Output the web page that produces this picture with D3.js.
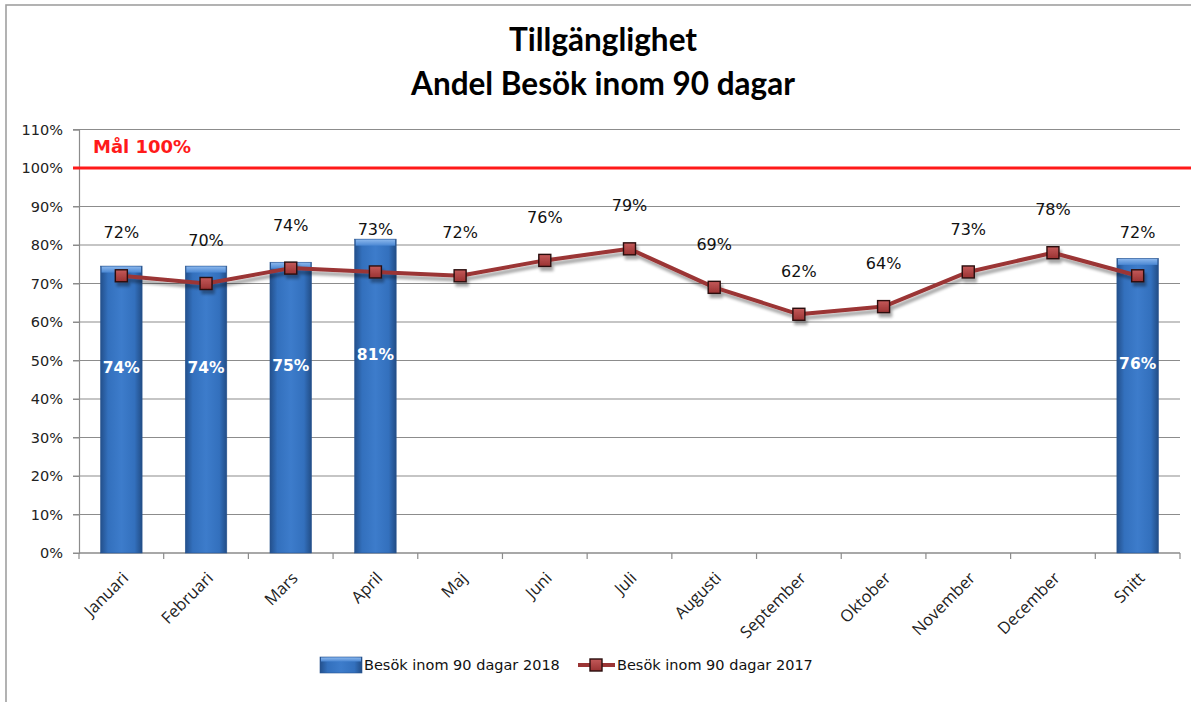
<!DOCTYPE html>
<html><head><meta charset="utf-8">
<script src="https://cdn.jsdelivr.net/npm/d3@7"></script>
<style>
html,body{margin:0;padding:0;background:#fff;}
svg{display:block;}
</style></head>
<body>
<svg id="chart" width="1191" height="702"></svg>
<script>
// ---- data ----
const categories = ["Januari","Februari","Mars","April","Maj","Juni","Juli","Augusti","September","Oktober","November","December","Snitt"];
const values2018 = [74, 74, 75, 81, null, null, null, null, null, null, null, null, 76];
const values2017 = [72, 70, 74, 73, 72, 76, 79, 69, 62, 64, 73, 78, 72];
const yTicks = [0,10,20,30,40,50,60,70,80,90,100,110];
const goalValue = 100;
const goalLabel = "Mål 100%";
const titleLines = ["Tillgänglighet", "Andel Besök inom 90 dagar"];
const seriesNames = ["Besök inom 90 dagar 2018", "Besök inom 90 dagar 2017"];

// ---- layout ----
const W = 1191, H = 702;
const plot = {left: 79, right: 1180, top: 129.5, bottom: 553};
const svg = d3.select("#chart");
const defs = svg.append("defs");

const x = d3.scaleBand().domain(categories).range([plot.left, plot.right]).paddingInner(0).paddingOuter(0);
const y = d3.scaleLinear().domain([0, 110]).range([plot.bottom, plot.top]);

// gradients
const bg = defs.append("linearGradient").attr("id","barGrad").attr("x1","0").attr("x2","1").attr("y1","0").attr("y2","0");
bg.append("stop").attr("offset","0%").attr("stop-color","#23508c");
bg.append("stop").attr("offset","18%").attr("stop-color","#3370bd");
bg.append("stop").attr("offset","50%").attr("stop-color","#3d7ccb");
bg.append("stop").attr("offset","82%").attr("stop-color","#3370bd");
bg.append("stop").attr("offset","100%").attr("stop-color","#224d86");
const tg = defs.append("linearGradient").attr("id","topGrad").attr("x1","0").attr("x2","0").attr("y1","0").attr("y2","1");
tg.append("stop").attr("offset","0%").attr("stop-color","#8ab6ec");
tg.append("stop").attr("offset","100%").attr("stop-color","#4a87d3");
const mg = defs.append("linearGradient").attr("id","mkGrad").attr("x1","0").attr("x2","0").attr("y1","0").attr("y2","1");
mg.append("stop").attr("offset","0%").attr("stop-color","#c45a5a");
mg.append("stop").attr("offset","100%").attr("stop-color","#9a3232");
const sh = defs.append("filter").attr("id","shadow").attr("x","-5%").attr("y","-20%").attr("width","110%").attr("height","160%");
sh.append("feGaussianBlur").attr("in","SourceAlpha").attr("stdDeviation","1.8").attr("result","b");
sh.append("feOffset").attr("in","b").attr("dx","2").attr("dy","4").attr("result","o");
sh.append("feComponentTransfer").attr("in","o").attr("result","oc").append("feFuncA").attr("type","linear").attr("slope","0.35");
const mrg = sh.append("feMerge");
mrg.append("feMergeNode").attr("in","oc");
mrg.append("feMergeNode").attr("in","SourceGraphic");

// frame
svg.append("rect").attr("x",6).attr("y",5).attr("width",W+20).attr("height",H+20)
  .attr("fill","#fff").attr("stroke","#a0a0a0").attr("stroke-width",1.6);

// title
titleLines.forEach((t,i)=>{
  svg.append("text").attr("x",603).attr("y",51 + i*44).attr("text-anchor","middle")
    .attr("font-family","Lato, 'Open Sans', sans-serif").attr("font-weight","bold")
    .attr("font-size",31.5).attr("fill","#000").text(t);
});

// gridlines
svg.append("g").selectAll("line").data(yTicks).join("line")
  .attr("x1",plot.left-6).attr("x2",plot.right).attr("y1",d=>y(d)).attr("y2",d=>y(d))
  .attr("stroke","#8c8c8c").attr("stroke-width",1.2);

// y axis
const yAxis = d3.axisLeft(y).tickValues(yTicks).tickFormat(d=>d+"%").tickSize(6).tickPadding(4);
const ya = svg.append("g").attr("transform",`translate(${plot.left},0)`).call(yAxis);
ya.select(".domain").attr("stroke","#8c8c8c").attr("stroke-width",1.2);
ya.selectAll(".tick line").attr("stroke","#8c8c8c");
ya.selectAll(".tick text").attr("font-family","'DejaVu Sans', sans-serif").attr("font-size",14.5).attr("fill","#222").attr("x",-16);

// x axis
const xa = svg.append("g").attr("transform",`translate(0,${plot.bottom})`);
xa.append("line").attr("x1",plot.left).attr("x2",plot.right).attr("stroke","#8c8c8c").attr("stroke-width",1.2);
const bounds = categories.map((c)=>x(c)).concat([plot.right]);
xa.selectAll("line.tk").data(bounds).join("line").attr("class","tk")
  .attr("x1",d=>d).attr("x2",d=>d).attr("y1",0).attr("y2",6).attr("stroke","#8c8c8c").attr("stroke-width",1.2);
xa.selectAll("text").data(categories).join("text")
  .attr("transform",d=>`translate(${x(d)+x.bandwidth()/2+4},${22}) rotate(-45)`)
  .attr("text-anchor","end").attr("dy","0.35em")
  .attr("font-family","'Open Sans', sans-serif").attr("font-size",16.5).attr("fill","#222")
  .text(d=>d);

// bars
const barW = x.bandwidth()*0.49;
const barData = categories.map((c,i)=>({c, v: values2018[i]})).filter(d=>d.v!=null);
const bars = svg.append("g");
bars.selectAll("rect.bar").data(barData).join("rect").attr("class","bar")
  .attr("x",d=>x(d.c)+x.bandwidth()/2-barW/2).attr("width",barW)
  .attr("y",d=>y(d.v)-2).attr("height",d=>y(0)-y(d.v)+2)
  .attr("fill","url(#barGrad)").attr("stroke","#2a5590").attr("stroke-width",0.6);
bars.selectAll("rect.cap").data(barData).join("rect").attr("class","cap")
  .attr("x",d=>x(d.c)+x.bandwidth()/2-barW/2+1).attr("width",barW-2)
  .attr("y",d=>y(d.v)-1.5).attr("height",6)
  .attr("fill","url(#topGrad)");
bars.selectAll("text").data(barData).join("text")
  .attr("x",d=>x(d.c)+x.bandwidth()/2).attr("y",d=>(y(d.v)+y(0))/2-43)
  .attr("text-anchor","middle").attr("dy","0.35em")
  .attr("font-family","'DejaVu Sans', sans-serif").attr("font-weight","bold").attr("font-size",15.5)
  .attr("fill","#fff").text(d=>d.v+"%");

// goal line
svg.append("line").attr("x1",plot.left-6).attr("x2",W).attr("y1",y(goalValue)).attr("y2",y(goalValue))
  .attr("stroke","#ff1a1a").attr("stroke-width",3);
svg.append("text").attr("x",93).attr("y",y(goalValue)-21).attr("dy","0.35em")
  .attr("font-family","'DejaVu Sans', sans-serif").attr("font-weight","bold").attr("font-size",18)
  .attr("fill","#ff1a1a").text(goalLabel);

// line 2017
const lineData = categories.map((c,i)=>({c, v: values2017[i]}));
const cx = d=>x(d.c)+x.bandwidth()/2;
const lg = svg.append("g").attr("filter","url(#shadow)");
lg.append("path").datum(lineData)
  .attr("d", d3.line().x(cx).y(d=>y(d.v)))
  .attr("fill","none").attr("stroke","#9b3535").attr("stroke-width",4).attr("stroke-linejoin","round");
lg.selectAll("rect").data(lineData).join("rect")
  .attr("x",d=>cx(d)-6).attr("y",d=>y(d.v)-6).attr("width",12).attr("height",12)
  .attr("fill","url(#mkGrad)").attr("stroke","#2a0e0e").attr("stroke-width",1.4);
svg.append("g").selectAll("text").data(lineData).join("text")
  .attr("x",cx).attr("y",d=>y(d.v)-43).attr("dy","0.35em").attr("text-anchor","middle")
  .attr("font-family","'DejaVu Sans', sans-serif").attr("font-size",16).attr("fill","#111")
  .text(d=>d.v+"%");

// legend
const leg = svg.append("g");
leg.append("rect").attr("x",320).attr("y",657).attr("width",42).attr("height",16)
  .attr("fill","url(#barGrad)").attr("stroke","#2a5590").attr("stroke-width",0.6);
leg.append("rect").attr("x",321).attr("y",657.5).attr("width",40).attr("height",4).attr("fill","url(#topGrad)");
leg.append("text").attr("x",364).attr("y",665).attr("dy","0.35em")
  .attr("font-family","'DejaVu Sans', sans-serif").attr("font-size",14.5).attr("fill","#111").text(seriesNames[0]);
leg.append("line").attr("x1",578).attr("x2",615).attr("y1",665).attr("y2",665).attr("stroke","#9b3535").attr("stroke-width",4);
leg.append("rect").attr("x",590).attr("y",659).attr("width",12).attr("height",12)
  .attr("fill","url(#mkGrad)").attr("stroke","#2a0e0e").attr("stroke-width",1.4);
leg.append("text").attr("x",617).attr("y",665).attr("dy","0.35em")
  .attr("font-family","'DejaVu Sans', sans-serif").attr("font-size",14.5).attr("fill","#111").text(seriesNames[1]);
</script>
</body></html>
